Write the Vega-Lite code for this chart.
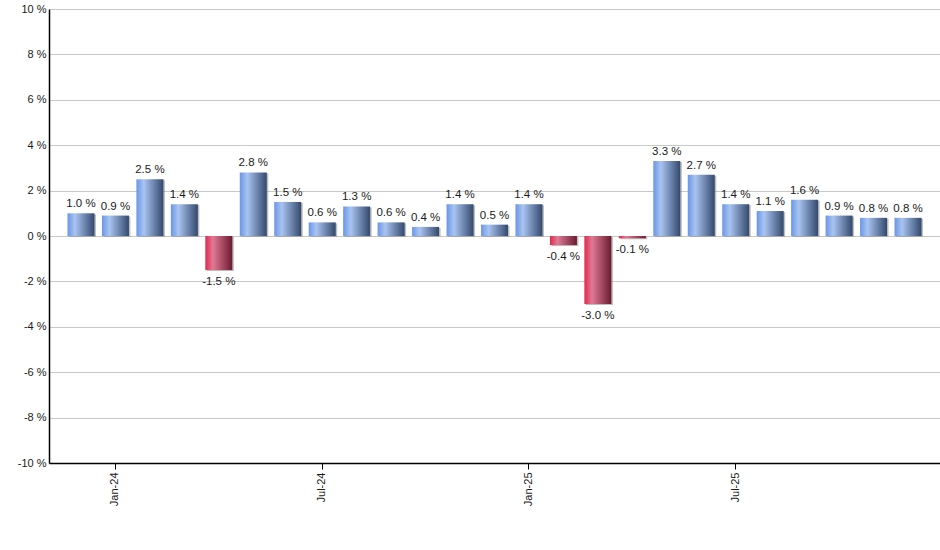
{
  "$schema": "https://vega.github.io/schema/vega-lite/v6.json",
  "width": 891,
  "height": 454,
  "autosize": {"type": "none"},
  "padding": {"left": 49, "top": 9, "right": 0, "bottom": 87},
  "background": "#ffffff",
  "data": {
    "values": [
      {"month": "Dec-23", "v": 1.0},
      {"month": "Jan-24", "v": 0.9},
      {"month": "Feb-24", "v": 2.5},
      {"month": "Mar-24", "v": 1.4},
      {"month": "Apr-24", "v": -1.5},
      {"month": "May-24", "v": 2.8},
      {"month": "Jun-24", "v": 1.5},
      {"month": "Jul-24", "v": 0.6},
      {"month": "Aug-24", "v": 1.3},
      {"month": "Sep-24", "v": 0.6},
      {"month": "Oct-24", "v": 0.4},
      {"month": "Nov-24", "v": 1.4},
      {"month": "Dec-24", "v": 0.5},
      {"month": "Jan-25", "v": 1.4},
      {"month": "Feb-25", "v": -0.4},
      {"month": "Mar-25", "v": -3.0},
      {"month": "Apr-25", "v": -0.1},
      {"month": "May-25", "v": 3.3},
      {"month": "Jun-25", "v": 2.7},
      {"month": "Jul-25", "v": 1.4},
      {"month": "Aug-25", "v": 1.1},
      {"month": "Sep-25", "v": 1.6},
      {"month": "Oct-25", "v": 0.9},
      {"month": "Nov-25", "v": 0.8},
      {"month": "Dec-25", "v": 0.8}
    ]
  },
  "encoding": {
    "x": {
      "field": "month",
      "type": "nominal",
      "sort": null,
      "title": null,
      "scale": {"paddingInner": 0.216, "paddingOuter": 0.536},
      "axis": {
        "values": ["Jan-24", "Jul-24", "Jan-25", "Jul-25"],
        "labelAngle": -90,
        "labelAlign": "right",
        "labelBaseline": "middle",
        "labelPadding": 3,
        "tickSize": 6,
        "tickColor": "#000000",
        "domainColor": "#000000",
        "domainWidth": 1.5,
        "grid": false
      }
    },
    "y": {
      "field": "v",
      "type": "quantitative",
      "title": null,
      "scale": {"domain": [-10, 10], "nice": false},
      "axis": {
        "values": [-10, -8, -6, -4, -2, 0, 2, 4, 6, 8, 10],
        "labelExpr": "datum.value + ' %'",
        "ticks": false,
        "labelPadding": 3,
        "domainColor": "#000000",
        "domainWidth": 1.5,
        "gridColor": "#c8c8c8",
        "gridWidth": 1
      }
    }
  },
  "layer": [
    {
      "mark": {"type": "bar", "color": "#8a8a8a", "opacity": 0.55, "xOffset": 1.5, "yOffset": 1}
    },
    {
      "transform": [{"filter": "datum.v >= 0"}],
      "mark": {
        "type": "bar",
        "color": {
          "gradient": "linear",
          "x1": 0, "x2": 1, "y1": 0, "y2": 0,
          "stops": [
            {"offset": 0, "color": "#6a96e6"},
            {"offset": 0.28, "color": "#a9c4f1"},
            {"offset": 1, "color": "#33486d"}
          ]
        }
      }
    },
    {
      "transform": [{"filter": "datum.v < 0"}],
      "mark": {
        "type": "bar",
        "color": {
          "gradient": "linear",
          "x1": 0, "x2": 1, "y1": 0, "y2": 0,
          "stops": [
            {"offset": 0, "color": "#e0284f"},
            {"offset": 0.28, "color": "#e07a95"},
            {"offset": 1, "color": "#6b1a30"}
          ]
        }
      }
    },
    {
      "transform": [{"filter": "datum.v >= 0"}],
      "mark": {
        "type": "text",
        "baseline": "bottom",
        "dy": -4,
        "fontSize": 11.5,
        "color": "#1a1a1a",
        "text": {"expr": "format(datum.v, '.1f') + ' %'"}
      }
    },
    {
      "transform": [{"filter": "datum.v < 0"}],
      "mark": {
        "type": "text",
        "baseline": "top",
        "dy": 6,
        "fontSize": 11.5,
        "color": "#1a1a1a",
        "text": {"expr": "'-' + format(-datum.v, '.1f') + ' %'"}
      }
    }
  ],
  "config": {
    "font": "Liberation Sans",
    "view": {"stroke": null},
    "axis": {"labelFont": "Liberation Sans", "labelFontSize": 11, "labelColor": "#1a1a1a"}
  }
}
